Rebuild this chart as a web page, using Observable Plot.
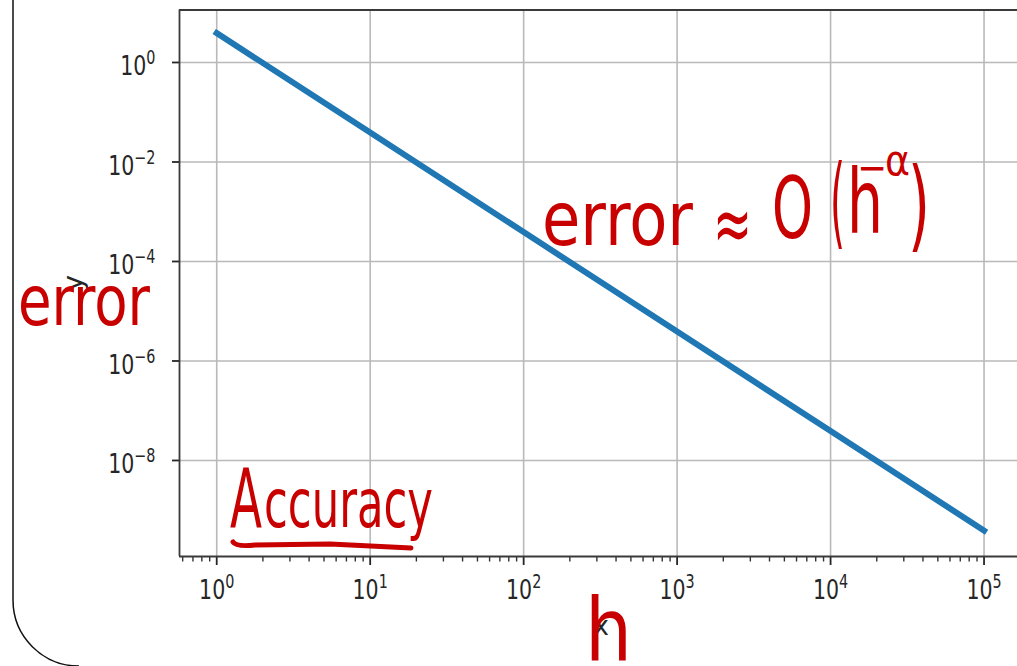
<!DOCTYPE html>
<html><head><meta charset="utf-8">
<script src="https://cdn.jsdelivr.net/npm/d3@7"></script>
<script src="https://cdn.jsdelivr.net/npm/@observablehq/plot@0.6"></script>
<style>
html,body{margin:0;padding:0;background:#fff;}
#chart{width:1017px;height:666px;overflow:hidden;}
</style></head><body><div id="chart"></div>
<script>
// data (error ~ 3.9 / h^2)
const h = [1, 10, 100, 1000, 10000, 100000];
const error = [3.9, 3.9e-2, 3.9e-4, 3.9e-6, 3.9e-8, 3.9e-10];

const xTicks = [1, 10, 100, 1000, 10000, 100000];
const xTickLabels = ["10⁰", "10¹", "10²", "10³", "10⁴", "10⁵"];
const yTicks = [1, 1e-2, 1e-4, 1e-6, 1e-8];
const yTickLabels = ["10⁰", "10⁻²", "10⁻⁴", "10⁻⁶", "10⁻⁸"];
const xLabel = "x";
const yLabel = "y";
const xDomain = [10 ** -0.2425, 10 ** 5.218];
const yDomain = [10 ** -9.93, 10 ** 1.055];

const data = h.map((v, i) => ({h: v, error: error[i]}));
const xMinor = d3.scaleLog().domain(xDomain).ticks().filter(v => !xTicks.some(t => Math.abs(t - v) / t < 1e-9));
const fmtX = d => xTickLabels[xTicks.findIndex(t => Math.abs(t - d) / t < 1e-9)];
const fmtY = d => yTickLabels[yTicks.findIndex(t => Math.abs(t - d) / t < 1e-9)];
const blank = () => "";

const spine = {stroke: "#3a3a3a", strokeWidth: 1.8};
const plot = Plot.plot({
  width: 1017, height: 666,
  marginLeft: 179, marginRight: 0, marginTop: 9.5, marginBottom: 110,
  style: {fontFamily: "'DejaVu Sans', sans-serif", background: "#fff", overflow: "visible"},
  x: {type: "log", domain: xDomain},
  y: {type: "log", domain: yDomain},
  marks: [
    Plot.gridX(xTicks, {stroke: "#b9b9b9", strokeOpacity: 1, strokeWidth: 1.6}),
    Plot.gridY(yTicks, {stroke: "#b9b9b9", strokeOpacity: 1, strokeWidth: 1.6}),
    Plot.axisX(xMinor, {tickSize: 5.5, tickFormat: blank, stroke: "#333", strokeWidth: 1.4, label: null}),
    Plot.axisX(xTicks, {tickSize: 9, tickPadding: 14, tickFormat: fmtX, fontSize: 27, color: "#262626", strokeWidth: 1.8, label: null}),
    Plot.axisY(yTicks, {tickSize: 7, tickFormat: blank, stroke: "#262626", strokeWidth: 1.8, label: null}),
    Plot.axisY(yTicks, {tickSize: 0, tickPadding: 24, dy: 4, tickFormat: fmtY, fontSize: 27, color: "#262626", label: null}),
    Plot.ruleX([xDomain[0]], spine),
    Plot.ruleY([yDomain[1]], spine),
    Plot.ruleY([yDomain[0]], spine),
    Plot.line(data, {x: "h", y: "error", stroke: "#1f77b4", strokeWidth: 6, strokeLinecap: "square"})
  ]
});
document.getElementById("chart").appendChild(plot);

// matplotlib mathtext-like tick labels: "10" + raised exponent, narrow
const supMap = {"⁰":"0","¹":"1","²":"2","³":"3","⁴":"4","⁵":"5","⁶":"6","⁷":"7","⁸":"8","⁹":"9","⁻":"−"};
const NS = "http://www.w3.org/2000/svg";
plot.querySelectorAll('g[aria-label="x-axis tick label"] text, g[aria-label="y-axis tick label"] text').forEach(t => {
  const s = t.textContent;
  if (!s) return;
  const base = s.slice(0, 2);
  const exp = [...s.slice(2)].map(c => supMap[c] ?? c).join("");
  t.textContent = "";
  const b = document.createElementNS(NS, "tspan");
  b.textContent = base;
  t.appendChild(b);
  const e = document.createElementNS(NS, "tspan");
  e.textContent = exp;
  e.setAttribute("font-size", "0.7em");
  e.setAttribute("dy", "-11");
  t.appendChild(e);
  const w = t.getComputedTextLength();
  if (w > 0) {
    t.setAttribute("textLength", w * 0.76);
    t.setAttribute("lengthAdjust", "spacingAndGlyphs");
  }
});

const svg = d3.select(plot);
// notes-app frame
svg.append("path").attr("d", "M13,0V600A66,66 0 0 0 79,666")
  .attr("fill", "none").attr("stroke", "#111").attr("stroke-width", 1.5);

// axis labels (matplotlib xlabel / ylabel)
svg.append("text").attr("x", 601).attr("y", 635).attr("text-anchor", "middle")
  .attr("font-size", 27).attr("fill", "#262626").text(xLabel);
svg.append("text").attr("transform", "translate(82,283) rotate(-90)").attr("text-anchor", "middle")
  .attr("font-size", 27).attr("fill", "#262626").text(yLabel);

// handwritten annotations
const notes = svg.append("g").attr("fill", "#c80000").attr("stroke", "#c80000")
  .attr("stroke-width", 0).attr("stroke-linejoin", "round").attr("text-anchor", "start")
  .attr("font-family", "'DejaVu Sans', sans-serif");
function note(txt, x, y, size, len) {
  notes.append("text").attr("x", x).attr("y", y).attr("font-size", size)
    .attr("textLength", len).attr("lengthAdjust", "spacingAndGlyphs").text(txt);
}
note("error", 18, 325, 70, 132);
note("error", 542, 245, 74, 151);
note("≈", 713, 251, 80, 39);
note("O", 772, 238, 86, 41);
note("(", 830, 236, 100, 15);
note("h", 847, 233, 89, 36);
note("−", 857, 182, 42, 30);
note("α", 885, 175, 42, 25);
note(")", 908, 239, 100, 22);
note("A", 230, 527, 82, 32);
note("ccuracy", 264, 527, 68, 169);
note("h", 585, 660, 87, 47);
notes.append("path").attr("d", "M233,542Q236,547 255,545L330,544L411,548")
  .attr("fill", "none").attr("stroke-width", 5).attr("stroke-linecap", "round");
</script></body></html>
